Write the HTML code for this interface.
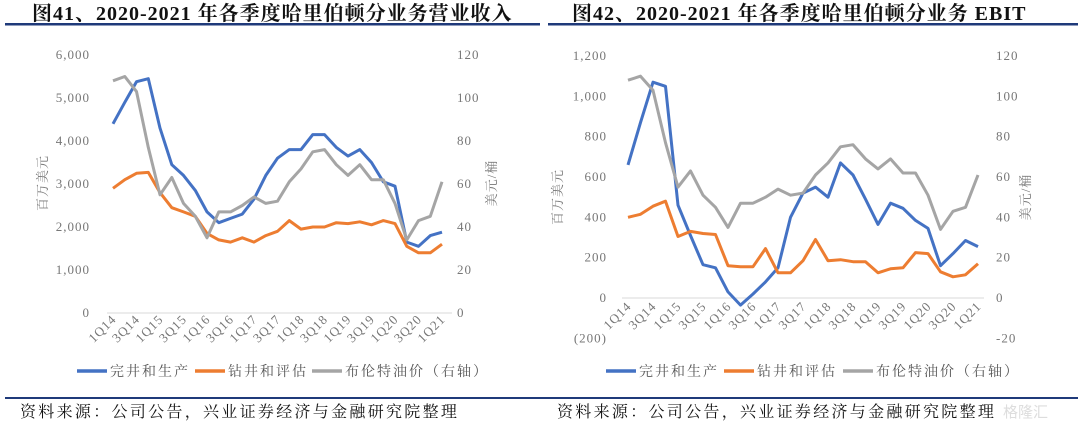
<!DOCTYPE html>
<html><head><meta charset="utf-8"><style>
body{margin:0;background:#fff;width:1080px;height:424px;overflow:hidden}
svg{display:block}
.t{font-family:"Liberation Serif","Noto Serif CJK SC",serif;font-weight:bold;font-size:20px;fill:#111;letter-spacing:1px}
.s{font-family:"Liberation Serif","Noto Serif CJK SC",serif;font-size:16px;fill:#111;letter-spacing:2.3px}
.ax{font-family:"Liberation Serif","Noto Serif CJK SC",serif;font-size:13px;fill:#777;letter-spacing:1px}
.lg{font-family:"Liberation Serif","Noto Serif CJK SC",serif;font-size:14px;fill:#555;letter-spacing:2px}
</style></head><body>
<svg id="svg" width="1080" height="424" xmlns="http://www.w3.org/2000/svg">
<text class="t" x="32" y="20">图41、2020-2021 年各季度哈里伯顿分业务营业收入</text>
<text class="t" x="572" y="20">图42、2020-2021 年各季度哈里伯顿分业务 EBIT</text>
<rect x="5" y="23" width="535" height="2.5" fill="#1f3a7a"/>
<rect x="548" y="23" width="530" height="2.5" fill="#1f3a7a"/>
<rect x="5" y="397" width="535" height="2" fill="#1f3a7a"/>
<rect x="540" y="397" width="538" height="2" fill="#1f3a7a"/>
<text class="s" x="20" y="417">资料来源：公司公告，兴业证券经济与金融研究院整理</text>
<text class="s" x="557" y="417">资料来源：公司公告，兴业证券经济与金融研究院整理</text>
<text x="1003" y="417" font-family="Liberation Sans,sans-serif" font-size="15" fill="#ddd">格隆汇</text>
<g id="c1"></g>
<g id="c2"></g>
</svg>
<script>
const categories=["1Q14","2Q14","3Q14","4Q14","1Q15","2Q15","3Q15","4Q15","1Q16","2Q16","3Q16","4Q16","1Q17","2Q17","3Q17","4Q17","1Q18","2Q18","3Q18","4Q18","1Q19","2Q19","3Q19","4Q19","1Q20","2Q20","3Q20","4Q20","1Q21"];
const revCompletion=[4400,4900,5380,5450,4300,3450,3200,2850,2350,2100,2200,2300,2650,3200,3600,3800,3800,4150,4150,3850,3650,3800,3500,3050,2950,1650,1550,1800,1880];
const revDrilling=[2900,3100,3250,3270,2800,2450,2350,2250,1850,1700,1650,1750,1650,1800,1900,2150,1950,2000,2000,2100,2080,2120,2050,2150,2080,1550,1400,1400,1600];
const ebitCompletion=[660,870,1070,1050,460,310,165,150,30,-35,20,80,150,400,520,550,500,670,610,490,365,470,445,385,345,160,220,285,255];
const ebitDrilling=[400,415,455,480,305,330,320,315,160,155,155,245,125,125,185,290,185,190,180,180,125,145,150,225,220,130,105,115,170];
const brent=[108,110,103,77,55,63,51,45,35,47,47,50,54,51,52,61,67,75,76,69,64,69,62,62,51,34,43,45,61];
const leftTicks1=["0","1,000","2,000","3,000","4,000","5,000","6,000"];
const leftTickVals1=[0,1000,2000,3000,4000,5000,6000];
const rightTicks1=["0","20","40","60","80","100","120"];
const rightTickVals1=[0,20,40,60,80,100,120];
const leftTicks2=["(200)","0","200","400","600","800","1,000","1,200"];
const leftTickVals2=[-200,0,200,400,600,800,1000,1200];
const rightTicks2=["-20","0","20","40","60","80","100","120"];
const rightTickVals2=[-20,0,20,40,60,80,100,120];
const NS="http://www.w3.org/2000/svg";
function mk(p,tag,a){const e=document.createElementNS(NS,tag);for(const k in a)e.setAttribute(k,a[k]);p.appendChild(e);return e;}
function chart(g,cfg){
  const yL=v=>cfg.y0+(v-cfg.lmin)/(cfg.lmax-cfg.lmin)*(cfg.y1-cfg.y0);
  const yR=v=>cfg.y0+(v-cfg.rmin)/(cfg.rmax-cfg.rmin)*(cfg.y1-cfg.y0);
  const x=i=>cfg.x0+i*(cfg.x1-cfg.x0)/(categories.length-1);
  const base=yL(0);
  const axl=mk(g,'line',{x1:cfg.ax0,x2:cfg.ax1,y1:base,y2:base,stroke:'#d9d9d9','stroke-width':1});
  
  
  cfg.lt.forEach((t,i)=>{const e=mk(g,'text',{x:cfg.lx,y:yL(cfg.lv[i])+4,'text-anchor':'end',class:'ax'});e.textContent=t;
    if(t==="(200)")e.setAttribute('fill','#e03030');
    
    });
  cfg.rt.forEach((t,i)=>{const e=mk(g,'text',{x:cfg.rx,y:yR(cfg.rv[i])+4,class:'ax'});e.textContent=t;
    
    });
  categories.forEach((c,i)=>{if(i%2)return;const e=mk(g,'text',{x:x(i)+4,y:cfg.xly,'text-anchor':'end',class:'ax',transform:`rotate(-45 ${x(i)+4} ${cfg.xly})`});e.textContent=c;
    
    });
  const yt=mk(g,'text',{x:cfg.ytx,y:cfg.yty,'text-anchor':'middle',class:'ax','font-size':15,transform:`rotate(-90 ${cfg.ytx} ${cfg.yty})`});yt.textContent='百万美元';
  
  
  const rt=mk(g,'text',{x:cfg.rtx,y:cfg.yty,'text-anchor':'middle',class:'ax','font-size':15,transform:`rotate(-90 ${cfg.rtx} ${cfg.yty})`});rt.textContent='美元/桶';
  
  
  const series=[[cfg.s1,yL,'#4472C4','completion-line'],[cfg.s2,yL,'#ED7D31','drilling-line'],[brent,yR,'#A5A5A5','brent-line']];
  series.forEach(([d,f,c,n])=>{const p=mk(g,'polyline',{points:d.map((v,i)=>x(i).toFixed(1)+','+f(v).toFixed(1)).join(' '),fill:'none',stroke:c,'stroke-width':3,'stroke-linejoin':'round'});
    
    });
  const legs=[['#4472C4','完井和生产'],['#ED7D31','钻井和评估'],['#A5A5A5','布伦特油价（右轴）']];
  legs.forEach(([c,t],i)=>{const lx=cfg.legx[i];
    const l=mk(g,'line',{x1:lx,x2:lx+30,y1:371,y2:371,stroke:c,'stroke-width':3.5});
    
    
    const e=mk(g,'text',{x:lx+33,y:376,class:'lg'});e.textContent=t;
    
    });
}
chart(document.getElementById('c1'),{x0:113,x1:442,ax0:107,ax1:452,y0:313,y1:55,lmin:0,lmax:6000,rmin:0,rmax:120,
  lt:leftTicks1,lv:leftTickVals1,rt:rightTicks1,rv:rightTickVals1,lx:90,rx:457,xly:320,ytx:47,rtx:496,yty:183,
  s1:revCompletion,s2:revDrilling,legx:[77,195,312]});
chart(document.getElementById('c2'),{x0:628,x1:978,ax0:622,ax1:984,y0:298,y1:56,lmin:0,lmax:1200,rmin:0,rmax:120,
  lt:leftTicks2,lv:leftTickVals2,rt:rightTicks2,rv:rightTickVals2,lx:607,rx:996,xly:307,ytx:562,rtx:1030,yty:197,
  s1:ebitCompletion,s2:ebitDrilling,legx:[606,724,843]});
</script>
</body></html>
